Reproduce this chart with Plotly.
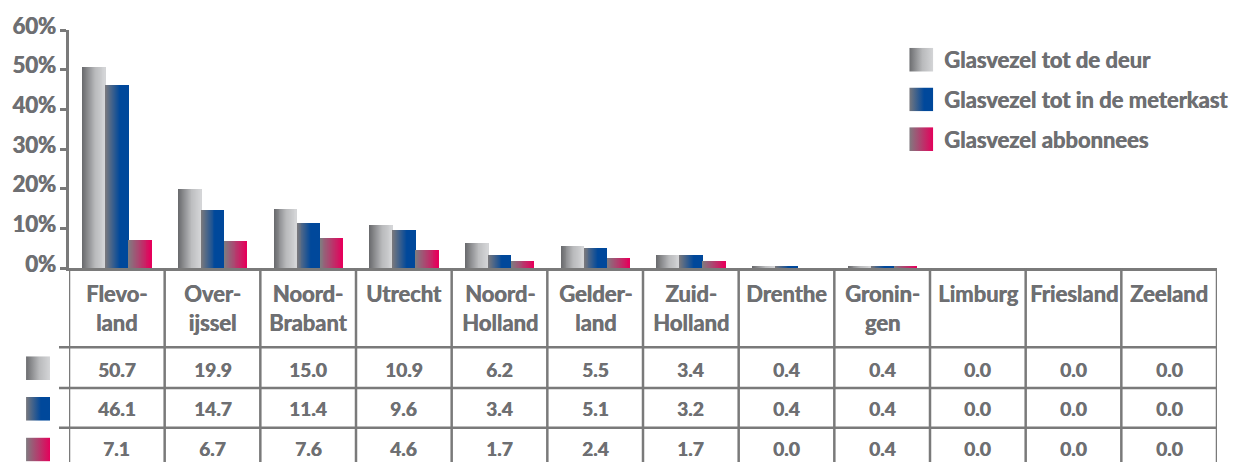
import base64
import plotly.graph_objects as go

# ---------------- data ----------------
provinces = ["Flevo-<br>land", "Over-<br>ijssel", "Noord-<br>Brabant", "Utrecht",
             "Noord-<br>Holland", "Gelder-<br>land", "Zuid-<br>Holland", "Drenthe",
             "Gronin-<br>gen", "Limburg", "Friesland", "Zeeland"]
series_names = ["Glasvezel tot de deur", "Glasvezel tot in de meterkast", "Glasvezel abbonnees"]
deur = [50.7, 19.9, 15.0, 10.9, 6.2, 5.5, 3.4, 0.4, 0.4, 0.0, 0.0, 0.0]
meterkast = [46.1, 14.7, 11.4, 9.6, 3.4, 5.1, 3.2, 0.4, 0.4, 0.0, 0.0, 0.0]
abonnees = [7.1, 6.7, 7.6, 4.6, 1.7, 2.4, 1.7, 0.0, 0.4, 0.0, 0.0, 0.0]
y_ticks = [0, 10, 20, 30, 40, 50, 60]

# ---------------- style ----------------
FONT = "Lato, Roboto, sans-serif"
TXT = "#6e6f72"
SHADOW = "0.6px 0 0 #6e6f72"
LINE = "#7a7a7a"
LW = 2.5
gradients = [
    [(0.0, "#6b6c6f"), (0.55, "#b9babc"), (1.0, "#d4d5d7")],
    [(0.0, "#78787d"), (0.62, "#00489b"), (1.0, "#00489b")],
    [(0.0, "#807b80"), (1.0, "#e5005b")],
]

W, H = 1248, 462
L, R, T, B = 68, 1217, 28, 268


def py(p):
    return (B - p) / (B - T)


def px(p):
    return (p - L) / (R - L)


def hex2rgb(h):
    h = h.lstrip("#")
    return tuple(int(h[i:i + 2], 16) for i in (0, 2, 4))


def grad_color(stops, t):
    for (t0, c0), (t1, c1) in zip(stops[:-1], stops[1:]):
        if t <= t1:
            f = 0 if t1 == t0 else (t - t0) / (t1 - t0)
            a, b = hex2rgb(c0), hex2rgb(c1)
            return "rgb(%d,%d,%d)" % tuple(round(a[i] + (b[i] - a[i]) * f) for i in range(3))
    return stops[-1][1]


def svg_swatch(stops):
    st = "".join('<stop offset="%g" stop-color="%s"/>' % (o, c) for o, c in stops)
    svg = ('<svg xmlns="http://www.w3.org/2000/svg" width="24" height="24">'
           '<defs><linearGradient id="g" x1="0" y1="0" x2="1" y2="0">%s</linearGradient></defs>'
           '<rect width="24" height="24" fill="url(#g)"/></svg>') % st
    return "data:image/svg+xml;base64," + base64.b64encode(svg.encode()).decode()


def tfont(size):
    return dict(family=FONT, size=size, color=TXT, weight="bold", shadow=SHADOW)


fig = go.Figure()

xs = list(range(len(provinces)))
all_series = [deur, meterkast, abonnees]
bw = 0.24
bases = [-0.36, -0.12, 0.12]
N = 24
for s, vals in enumerate(all_series):
    for k in range(N):
        dw = bw * k / N
        fig.add_trace(go.Bar(
            x=xs, y=vals, offset=bases[s] + dw, width=bw - dw,
            marker=dict(color=grad_color(gradients[s], k / (N - 1)), line=dict(width=0)),
            showlegend=False, hoverinfo="skip",
        ))

shapes = []
# table verticals
for i in range(len(provinces) + 1):
    shapes.append(dict(type="line", xref="x", yref="paper", x0=i - 0.5, x1=i - 0.5,
                       y0=py(B), y1=py(470), line=dict(color=LINE, width=LW)))
# table horizontals
for yy in [348, 389, 429]:
    shapes.append(dict(type="line", xref="paper", yref="paper", x0=px(58), x1=px(R),
                       y0=py(yy), y1=py(yy), line=dict(color=LINE, width=LW)))

annotations = []
for i, name in enumerate(provinces):
    annotations.append(dict(text=name, x=i, xref="x", y=py(278), yref="paper",
                            yanchor="top", xanchor="center", showarrow=False, align="center",
                            font=tfont(22)))
row_centers = [370, 410, 450]
for r, vals in enumerate(all_series):
    for i, v in enumerate(vals):
        annotations.append(dict(text="%.1f" % v, x=i, xref="x", y=py(row_centers[r]), yref="paper",
                                yanchor="middle", xanchor="center", showarrow=False,
                                font=tfont(19)))
# legend texts
leg_centers = [58, 98, 138]
for s, name in enumerate(series_names):
    annotations.append(dict(text=name, x=px(942), xref="paper", y=py(leg_centers[s]), yref="paper",
                            xanchor="left", yanchor="middle", showarrow=False,
                            font=tfont(22)))

images = []
for s in range(3):
    images.append(dict(source=svg_swatch(gradients[s]), xref="paper", yref="paper",
                       x=px(909), y=py(leg_centers[s] - 12), sizex=24 / (R - L), sizey=24 / (B - T),
                       xanchor="left", yanchor="top", sizing="stretch", layer="above"))
for s, top in enumerate([357, 398, 439]):
    images.append(dict(source=svg_swatch(gradients[s]), xref="paper", yref="paper",
                       x=px(25), y=py(top), sizex=24 / (R - L), sizey=24 / (B - T),
                       xanchor="left", yanchor="top", sizing="stretch", layer="above"))

fig.update_layout(
    width=W, height=H, autosize=False,
    margin=dict(l=L, r=W - R, t=T, b=H - B, pad=0),
    paper_bgcolor="white", plot_bgcolor="white",
    barmode="overlay", bargap=0,
    shapes=shapes, annotations=annotations, images=images,
    xaxis=dict(range=[-0.5, len(provinces) - 0.5], showticklabels=False, showgrid=False,
               zeroline=False, showline=True, linecolor=LINE, linewidth=LW, ticks="", fixedrange=True),
    yaxis=dict(range=[0, 60], tickvals=y_ticks, ticktext=["%d%%" % v for v in y_ticks],
               showgrid=False, zeroline=False, showline=True, linecolor=LINE, linewidth=LW,
               ticks="outside", ticklen=6, tickwidth=LW, tickcolor=LINE, ticklabelshift=-4,
               tickfont=tfont(22), fixedrange=True),
    showlegend=False,
)

fig.write_html("out.html", config={"displayModeBar": False},
               post_script="document.body.style.margin='0';document.body.style.overflow='hidden';")
